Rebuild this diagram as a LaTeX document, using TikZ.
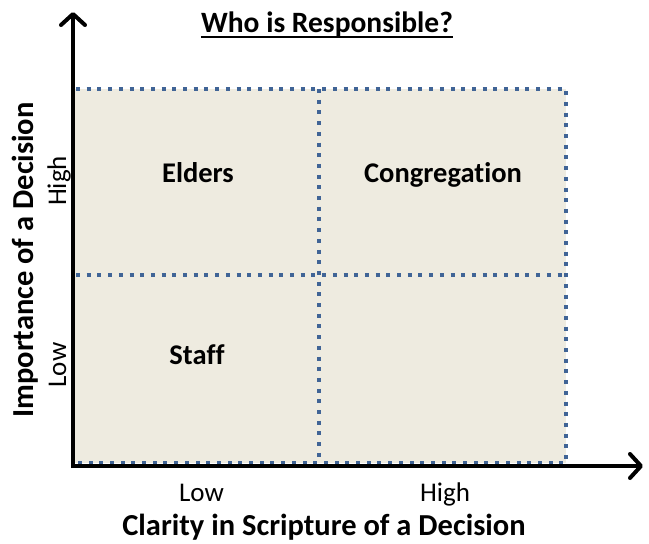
\documentclass[tikz,border=0pt]{standalone}
\usepackage{fontspec}
\setmainfont{Carlito}[Ligatures={TeX,NoCommon}]
\usetikzlibrary{arrows.meta}
\definecolor{quadfill}{RGB}{238,235,224}
\definecolor{dotblue}{RGB}{64,100,150}
\tikzset{
  quadlabel/.style={font=\fontsize{28.5}{33}\selectfont\bfseries, inner sep=0pt, anchor=base},
  axistitle/.style={font=\fontsize{30.5}{35}\selectfont\bfseries, inner sep=0pt, anchor=base},
  titlefont/.style={font=\fontsize{29.5}{34}\selectfont\bfseries, inner sep=0pt, anchor=base},
  ticklabel/.style={font=\fontsize{27}{31}\selectfont, inner sep=0pt, anchor=base},
  dotline/.style={draw=dotblue, line width=4pt, dash pattern=on 4pt off 6.7pt, line cap=butt},
  axisline/.style={line width=4pt, -{Straight Barb[length=11pt,width=24pt,line width=4pt,round]}}
}
\begin{document}
\begin{tikzpicture}[x=1pt,y=-1pt]
\useasboundingbox (0,0) rectangle (649,544);
% quadrant area
\fill[quadfill] (75,89) rectangle (566,463);
\coordinate (tl) at (76,89);
\coordinate (tm) at (319,89);
\coordinate (tr) at (566,89);
\coordinate (ml) at (76,275);
\coordinate (mr) at (566,275);
\coordinate (bl) at (76,463);
\coordinate (bm) at (319,463);
\coordinate (br) at (566,463);
\draw[dotline] (tl) -- (tr) -- (br) -- (bl);
\draw[dotline] (tm) -- (bm);
\draw[dotline] (ml) -- (mr);
% axes
\coordinate (origin) at (73,466);
\coordinate (ytip) at (73,12);
\coordinate (xtip) at (643,466);
\draw[axisline] ([yshift=-2pt]origin) -- (ytip);
\draw[axisline] ([xshift=-2pt]origin) -- (xtip);
% title
\node[titlefont] (title) at (327,32) {Who is Responsible?};
\draw[line width=2pt] ([yshift=-4.5pt]title.base west) -- ([yshift=-4.5pt]title.base east);
% quadrant labels
\node[quadlabel] (elders) at (198,182) {Elders};
\node[quadlabel] (congregation) at (443,182) {Congregation};
\node[quadlabel] (staff) at (197,364) {Staff};
% x-axis labels
\node[ticklabel] (xlow) at (201.5,501) {Low};
\node[ticklabel] (xhigh) at (445,501) {High};
\node[axistitle] (xtitle) at (324,535.5) {Clarity in Scripture of a Decision};
% y-axis labels
\node[ticklabel, rotate=90] (yhigh) at (66,181) {High};
\node[ticklabel, rotate=90] (ylow) at (66,365) {Low};
\node[axistitle, rotate=90] (ytitle) at (33,260) {Importance of a Decision};
\end{tikzpicture}
\end{document}
